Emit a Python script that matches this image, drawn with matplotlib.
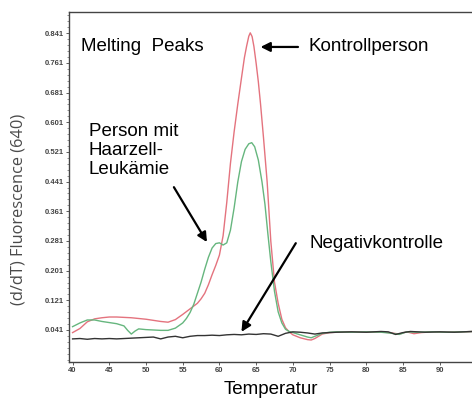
import numpy as np
import matplotlib
matplotlib.use("Agg")
import matplotlib.pyplot as plt

# -------- data --------
temp_red = [40, 41, 42, 43, 44, 45, 46, 47, 48, 49, 50, 51, 52, 53, 54, 55, 56, 57, 57.5,
            58, 58.5, 59, 59.5, 60, 60.5, 61, 61.5, 62, 62.5, 63, 63.4, 63.7, 64.0, 64.2,
            64.45, 64.7, 65.0, 65.3, 65.6, 66, 66.5, 67, 67.5, 68, 68.5, 69, 69.5, 70,
            71, 72, 72.5, 73, 74, 75, 76, 78, 80, 82, 83.5, 84.5, 85.5, 86.5, 87.5, 89,
            91, 93, 94.5]
red = [0.034, 0.045, 0.063, 0.071, 0.074, 0.076, 0.076, 0.075, 0.074, 0.072, 0.070, 0.067,
       0.064, 0.062, 0.069, 0.083, 0.098, 0.113, 0.125, 0.140, 0.163, 0.19, 0.215, 0.243,
       0.295, 0.385, 0.49, 0.575, 0.65, 0.72, 0.775, 0.806, 0.833, 0.842, 0.832, 0.805,
       0.76, 0.71, 0.65, 0.56, 0.44, 0.28, 0.17, 0.113, 0.07, 0.047, 0.036, 0.028, 0.02,
       0.015, 0.014, 0.018, 0.030, 0.034, 0.035, 0.036, 0.035, 0.036, 0.033, 0.030,
       0.036, 0.031, 0.034, 0.036, 0.035, 0.036, 0.037]

temp_green = [40, 41, 42, 43, 44, 45, 46, 47, 47.5, 48, 48.5, 49, 50, 51, 52, 53, 54, 55,
              55.5, 56, 56.5, 57, 57.5, 58, 58.5, 59, 59.5, 60, 60.5, 61, 61.5, 62, 62.5,
              63, 63.5, 64, 64.4, 64.8, 65.3, 65.8, 66.2, 66.6, 67, 67.5, 68, 68.5, 69,
              69.5, 70, 71, 72, 72.5, 73, 74, 75, 76, 78, 80, 82, 83.5, 84.5, 85.5, 87,
              89, 91, 93, 94.5]
green = [0.050, 0.060, 0.068, 0.068, 0.064, 0.061, 0.058, 0.052, 0.040, 0.030, 0.038, 0.044,
         0.042, 0.041, 0.040, 0.040, 0.046, 0.060, 0.072, 0.088, 0.11, 0.14, 0.17, 0.205,
         0.237, 0.262, 0.274, 0.276, 0.270, 0.276, 0.31, 0.37, 0.44, 0.495, 0.528, 0.543,
         0.546, 0.535, 0.499, 0.44, 0.38, 0.30, 0.225, 0.145, 0.090, 0.060, 0.043, 0.037,
         0.034, 0.028, 0.022, 0.020, 0.024, 0.032, 0.035, 0.036, 0.035, 0.036, 0.035,
         0.032, 0.029, 0.036, 0.035, 0.036, 0.035, 0.036, 0.037]

temp_black = [40, 41, 42, 43, 44, 45, 46, 47, 48, 49, 50, 51, 52, 53, 54, 55, 56, 57, 58,
              59, 60, 61, 62, 63, 64, 65, 66, 67, 68, 69, 70, 71, 72, 73, 74, 75, 76, 78,
              80, 82, 83, 84, 85, 86, 88, 90, 92, 94.5]
black = [0.017, 0.018, 0.016, 0.018, 0.017, 0.018, 0.017, 0.018, 0.019, 0.020, 0.021,
         0.022, 0.017, 0.022, 0.024, 0.020, 0.024, 0.026, 0.026, 0.027, 0.026, 0.028,
         0.029, 0.028, 0.030, 0.029, 0.031, 0.030, 0.024, 0.032, 0.036, 0.035, 0.033,
         0.030, 0.033, 0.034, 0.035, 0.036, 0.035, 0.037, 0.036, 0.029, 0.034, 0.037,
         0.035, 0.036, 0.035, 0.037]

y_ticks = [0.041, 0.121, 0.201, 0.281, 0.361, 0.441, 0.521, 0.601, 0.681, 0.761, 0.841]
x_ticks = [40, 45, 50, 55, 60, 65, 70, 75, 80, 85, 90]

# -------- figure --------
plt.rcParams['font.family'] = ['Liberation Sans', 'DejaVu Sans']
fig = plt.figure(figsize=(4.72, 4.03), dpi=100)
ax = fig.add_axes([0.146, 0.102, 0.854, 0.868])

ax.plot(temp_red, red, color='#e4737e', lw=1.0)
ax.plot(temp_green, green, color='#66b67e', lw=1.0)
ax.plot(temp_black, black, color='#333333', lw=1.0)

ax.set_xlim(39.5, 94.4)
ax.set_ylim(-0.045, 0.898)
ax.set_xticks(x_ticks)
ax.set_xticklabels([str(t) for t in x_ticks])
ax.set_yticks(y_ticks)
ax.set_yticklabels([f"{v:.3f}" for v in y_ticks])
ax.set_yticks(np.arange(-0.039, 0.898, 0.016), minor=True)
ax.tick_params(axis='both', labelsize=5.5, length=2, width=0.6, pad=1.5, colors='#444444')
ax.tick_params(axis='y', which='minor', length=1.2, width=0.5, colors='#666666')
for lab in ax.get_xticklabels() + ax.get_yticklabels():
    lab.set_fontweight('bold')

ax.spines['right'].set_visible(False)
for s in ['left', 'bottom', 'top']:
    ax.spines[s].set_color('#444444')
    ax.spines[s].set_linewidth(1.0)

ax.set_xlabel("Temperatur", fontsize=13.5, labelpad=5)
ax.set_ylabel("(d/dT) Fluorescence (640)", fontsize=11.8, color='#4a4a4a',
              family=['Open Sans', 'DejaVu Sans'])
ax.yaxis.set_label_coords(-0.104, 0.437)

# -------- annotations --------
arrow = dict(arrowstyle='-|>', color='black', lw=1.6, mutation_scale=14,
             shrinkA=0, shrinkB=0)
ax.text(41.2, 0.804, "Melting  Peaks", fontsize=13.5, va='center')
ax.text(72.1, 0.804, "Kontrollperson", fontsize=13.5, va='center')
ax.annotate("", xy=(65.6, 0.804), xytext=(70.7, 0.804), arrowprops=arrow)
ax.text(42.2, 0.598, "Person mit\nHaarzell-\nLeukämie", fontsize=13.5, va='top',
        linespacing=1.15)
ax.annotate("", xy=(58.3, 0.278), xytext=(53.8, 0.426), arrowprops=arrow)
ax.text(72.3, 0.275, "Negativkontrolle", fontsize=13.5, va='center')
ax.annotate("", xy=(63.0, 0.036), xytext=(70.4, 0.275), arrowprops=arrow)

fig.savefig("out.png", dpi=100)
